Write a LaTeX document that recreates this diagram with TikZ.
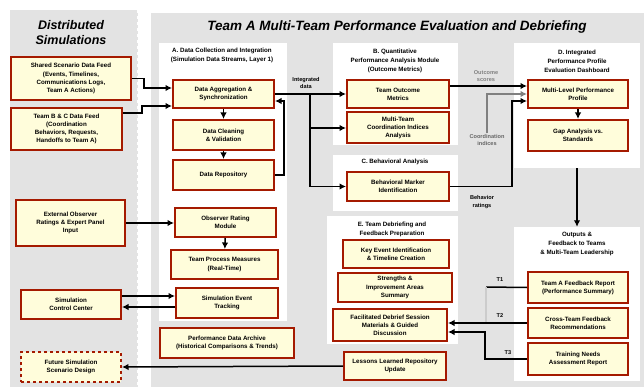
\documentclass[tikz,border=0pt]{standalone}
\usepackage{fontspec}
\setmainfont{Liberation Sans}
\usetikzlibrary{arrows.meta,calc}
\definecolor{panelgrey}{HTML}{E3E3E3}
\definecolor{boxfill}{HTML}{FFFDDB}
\definecolor{boxline}{HTML}{A51A00}
\begin{document}
\begin{tikzpicture}[x=1pt,y=-1pt,
  box/.style={draw=boxline, fill=boxfill, line width=2pt, align=center,
    font=\bfseries\fontsize{6.2}{8.2}\selectfont, inner sep=1pt},
  panel/.style={fill=panelgrey, draw=none, inner sep=0pt},
  sub/.style={fill=white, draw=none, inner sep=0pt},
  head/.style={font=\bfseries\fontsize{6.2}{9}\selectfont, align=center},
  ttl/.style={font=\bfseries\itshape, align=center},
  arr/.style={-{Latex[length=6.5pt,width=6.5pt]}, line width=1.5pt},
  ln/.style={line width=1.5pt},
  lab/.style={font=\bfseries\fontsize{5.6}{7.4}\selectfont, align=center, inner sep=1pt}]
\useasboundingbox (0,0) rectangle (644,387);
\fill[white] (0,0) rectangle (644,387);

% panels
\node[panel, minimum width=128pt, minimum height=377pt] (PL) at (74,198.5) {};
\draw[white, dashed, line width=1pt] (137.5,10) -- (137.5,387);
\node[panel, minimum width=493pt, minimum height=374pt] (PM) at (397.5,200) {};
\node[sub, minimum width=128pt, minimum height=278pt] (W1) at (223,182) {};
\node[sub, minimum width=125pt, minimum height=102pt] (W2) at (395.5,94) {};
\node[sub, minimum width=125pt, minimum height=56pt] (W3) at (395.5,183) {};
\node[sub, minimum width=131pt, minimum height=128pt] (W4) at (392.5,280) {};
\node[sub, minimum width=126pt, minimum height=125pt] (W5) at (577,105.5) {};
\node[sub, minimum width=126pt, minimum height=154pt] (W6) at (577,304) {};

% titles
\node[ttl, font=\bfseries\itshape\fontsize{12.5}{15}\selectfont] (TL) at (71,33) {Distributed\\Simulations};
\node[ttl, font=\bfseries\itshape\fontsize{13.5}{16}\selectfont] (TM) at (397,27) {Team A Multi-Team Performance Evaluation and Debriefing};

% headings
\node[head] (H1) at (222,55) {A. Data Collection and Integration\\(Simulation Data Streams, Layer 1)};
\node[head] (H2) at (395,61) {B. Quantitative\\Performance Analysis Module\\(Outcome Metrics)};
\node[head] (H3) at (395,162) {C. Behavioral Analysis};
\node[head] (H4) at (392,229) {E. Team Debriefing and\\Feedback Preparation};
\node[head] (H5) at (577,61) {D. Integrated\\Performance Profile\\Evaluation Dashboard};
\node[head] (H6) at (577,244) {Outputs \&\\Feedback to Teams\\\& Multi-Team Leadership};

% left boxes
\node[box, minimum width=120pt, minimum height=43pt] (L1) at (71,78.5) {Shared Scenario Data Feed\\(Events, Timelines,\\Communications Logs,\\Team A Actions)};
\node[box, minimum width=111pt, minimum height=42pt] (L2) at (66.5,129) {Team B \& C Data Feed\\(Coordination\\Behaviors, Requests,\\Handoffs to Team A)};
\node[box, minimum width=109pt, minimum height=46pt] (L3) at (70.5,223) {External Observer\\Ratings \& Expert Panel\\Input};
\node[box, minimum width=100pt, minimum height=29pt] (L4) at (71,304.5) {Simulation\\Control Center};
\node[box, dashed, minimum width=100pt, minimum height=30pt] (L5) at (71,367) {Future Simulation\\Scenario Design};

% column A
\node[box, minimum width=101pt, minimum height=28pt] (A1) at (223.5,94) {Data Aggregation \&\\Synchronization};
\node[box, minimum width=101pt, minimum height=30pt] (A2) at (223.5,135) {Data Cleaning\\\& Validation};
\node[box, minimum width=101pt, minimum height=30pt] (A3) at (223.5,175) {Data Repository};
\node[box, minimum width=101pt, minimum height=29pt] (A4) at (225.5,222.5) {Observer Rating\\Module};
\node[box, minimum width=107pt, minimum height=29pt] (A5) at (224.5,264.5) {Team Process Measures\\(Real-Time)};
\node[box, minimum width=102pt, minimum height=30pt] (A6) at (227,303) {Simulation Event\\Tracking};
\node[box, minimum width=134pt, minimum height=30pt] (A7) at (227,343) {Performance Data Archive\\(Historical Comparisons \& Trends)};

% column B / C
\node[box, minimum width=102pt, minimum height=28pt] (B1) at (398,94) {Team Outcome\\Metrics};
\node[box, minimum width=102pt, minimum height=31pt] (B2) at (398,128) {Multi-Team\\Coordination Indices\\Analysis};
\node[box, minimum width=102pt, minimum height=29pt] (B3) at (398,186.5) {Behavioral Marker\\Identification};
\node[box, minimum width=106pt, minimum height=28pt] (C1) at (396,254) {Key Event Identification\\\& Timeline Creation};
\node[box, minimum width=114pt, minimum height=29pt] (C2) at (395,287.5) {Strengths \&\\Improvement Areas\\Summary};
\node[box, minimum width=114pt, minimum height=32pt] (C3) at (390,325) {Facilitated Debrief Session\\Materials \& Guided\\Discussion};
\node[box, minimum width=102pt, minimum height=28pt] (C4) at (395,366) {Lessons Learned Repository\\Update};

% column D / E
\node[box, minimum width=100pt, minimum height=28pt] (D1) at (578,94) {Multi-Level Performance\\Profile};
\node[box, minimum width=100pt, minimum height=31pt] (D2) at (578,135.5) {Gap Analysis vs.\\Standards};
\node[box, minimum width=100pt, minimum height=31pt] (E1) at (578,287.5) {Team A Feedback Report\\(Performance Summary)};
\node[box, minimum width=100pt, minimum height=30pt] (E2) at (578,323) {Cross-Team Feedback\\Recommendations};
\node[box, minimum width=100pt, minimum height=32pt] (E3) at (578,359) {Training Needs\\Assessment Report};

% helper coordinates
\coordinate (y86) at (0,86);
\coordinate (y88) at (0,88);
\coordinate (y101) at (0,101);
\coordinate (y106) at (0,106);
\coordinate (y113) at (0,113);
\coordinate (y296) at (0,296);
\coordinate (y307) at (0,307);
\coordinate (y332) at (0,332);
\coordinate (br) at (310,94);
\coordinate (j1) at (486,287);

% connector labels
\node[lab] (la) at (306,83) {Integrated\\data};
\node[lab, text=black!50] (lb) at (486,76) {Outcome\\scores};
\node[lab, text=black!60] (lg) at (487,140) {Coordination\\indices};
\node[lab] (lc) at (482,202) {Behavior\\ratings};
\node[lab] (t1) at (500,280) {T1};
\node[lab] (t2) at (500,316) {T2};
\node[lab] (t3) at (508,353) {T3};

% connectors
\draw[arr] (L1.east) -- ++(12,0) |- (A1.west |- y88);
\draw[arr] (L2.east |- y113) -- ++(19,0) |- (A1.west |- y106);
\draw[arr] (L3.east) -- (A4.west |- L3.east);
\draw[arr] (L4.east |- y296) -- (A6.west |- y296);
\draw[arr] (A6.west |- y307) -- (L4.east |- y307);
\draw[arr] (C4.west) -- (L5.east);
\draw[arr] (A1) -- (A2);
\draw[arr] (A2) -- (A3);
\draw[arr] (A4) -- (A5);
\draw[arr] (A3.east) -- ++(9,0) |- (A1.east |- y101);
\draw[arr] (A1.east) -- (B1.west);
\draw[arr] (br) |- (B3.west);
\draw[arr] (br) |- (B2.west);
\draw[arr] (B1.east |- y86) -- (D1.west |- y86);
\draw[arr, draw=black!50] (lg.north) |- (D1.west);
\draw[arr] (B3.east) -- ++(62,0) |- (D1.west |- y101);
\draw[arr] (D1) -- (D2);
\draw[arr] (W5) -- (W6);
\draw[ln] (E1.west) -- (j1);
\draw[ln, draw=black!20] (j1) -- (j1 |- E2.west);
\draw[arr] (E2.west) -- (C3.east |- E2.west);
\draw[arr] (E3.west) -- ++(-42,0) |- (C3.east |- y332);
\end{tikzpicture}
\end{document}
